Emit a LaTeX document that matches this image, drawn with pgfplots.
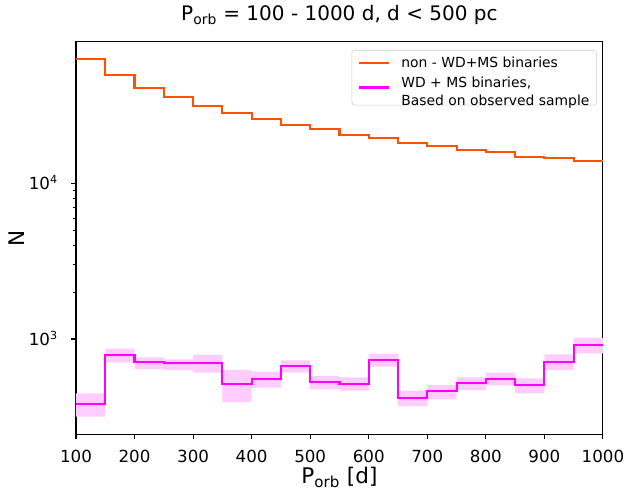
\documentclass[border=0pt]{standalone}
\usepackage{fontspec}
\setmainfont{DejaVu Sans}
\usepackage{pgfplots}
\pgfplotsset{compat=1.18}
\usepgfplotslibrary{fillbetween}
\definecolor{orangeln}{RGB}{255,82,0}
\definecolor{magln}{RGB}{255,0,255}
\definecolor{bandcol}{RGB}{255,204,255}
\begin{document}
\begin{tikzpicture}
\begin{axis}[
  scale only axis,
  width=379.4pt, height=282.5pt,
  ymode=log,
  xmin=100, xmax=1000,
  ymin=243.4, ymax=81730,
  xtick={100,200,...,1000},
  ytick={1000,10000},
  yticklabels={10\textsuperscript{3},10\textsuperscript{4}},
  /pgf/number format/assume math mode=true,
  /pgf/number format/1000 sep={},
  tick align=outside,
  tick pos=left,
  major tick length=3.5pt,
  minor tick length=2pt,
  every tick/.style={black, line width=0.8pt},
  minor tick style={line width=0.6pt},
  axis line style={line width=0.8pt},
  ticklabel style={font=\fontsize{12}{14}\selectfont},
  xticklabel style={anchor=base, yshift=-16.8pt},
  yticklabel style={anchor=base east, inner sep=0pt, xshift=-9.4pt, yshift=-4.37pt},
  xlabel={P\textsubscript{orb} [d]},
  ylabel={N},
  label style={font=\fontsize{15.5}{18}\selectfont},
  xlabel style={at={(axis description cs:0.5,-0.125)}, anchor=base},
  ylabel style={at={(axis description cs:-0.1118,0.5)}, anchor=center},
  every axis title shift=0pt,
  title={P\textsubscript{orb} = 100 - 1000 d, d < 500 pc},
  title style={font=\fontsize{14.4}{17}\selectfont, at={(axis description cs:0.5,1.0535)}, anchor=base},
  legend style={at={(axis description cs:1,1)}, anchor=north east, xshift=-4.5pt, yshift=-5.8pt,
    draw=black!20, rounded corners=2pt, font=\fontsize{10}{12}\selectfont,
    inner xsep=4.5pt, inner ysep=4pt, nodes={inner sep=0.5pt}, column sep=7.5pt, row sep=4pt},
  legend cell align=left,
  legend image code/.code={\draw[#1] (0pt,0pt) -- (21.6pt,0pt);},
]
\addplot[orangeln, line width=1.5pt, const plot] coordinates {
(100,63200) (150,49900) (200,41500) (250,36000) (300,31500) (350,28700)
(400,26200) (450,24000) (500,22600) (550,20600) (600,19700) (650,18300)
(700,17500) (750,16400) (800,16100) (850,14900) (900,14600) (950,13900) (1000,13900)};
\addlegendentry{non - WD+MS binaries}
\addplot[draw=none, name path=up, const plot, forget plot] coordinates {
(100,447) (150,867) (200,762) (250,740) (300,789) (350,631) (400,616) (450,729)
(500,578) (550,566) (600,800) (650,465) (700,505) (750,566) (800,607) (850,558)
(900,797) (950,1015) (1000,1015)};
\addplot[draw=none, name path=lo, const plot, forget plot] coordinates {
(100,316) (150,708) (200,641) (250,631) (300,607) (350,393) (400,486) (450,607)
(500,474) (550,465) (600,663) (650,370) (700,409) (750,470) (800,503) (850,447)
(900,631) (950,809) (1000,809)};
\addplot[bandcol, draw=none, forget plot] fill between[of=up and lo];
\addplot[magln, line width=1.5pt, const plot] coordinates {
(100,383) (150,789) (200,708) (250,701) (300,697) (350,513) (400,550) (450,667)
(500,531) (550,515) (600,729) (650,415) (700,461) (750,519) (800,553) (850,503)
(900,714) (950,919) (1000,919)};
\addlegendentry{\begin{tabular}{@{}l@{}}WD + MS binaries,\\[0.7pt]Based on observed sample\end{tabular}}
\end{axis}
\pgfresetboundingbox
\path (current axis.south west) ++(-54.7pt,-40.8pt) coordinate (bbA);
\path (current axis.north east) ++(16.6pt,30.2pt) coordinate (bbB);
\useasboundingbox (bbA) rectangle (bbB);
\end{tikzpicture}
\end{document}
